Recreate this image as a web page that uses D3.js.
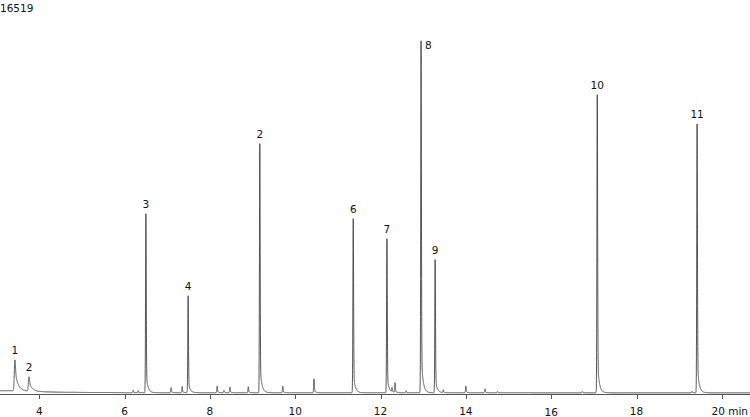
<!DOCTYPE html>
<html>
<head>
<meta charset="utf-8">
<script src="https://cdn.jsdelivr.net/npm/d3@7"></script>
<style>
  body { margin: 0; background: #fff; }
  svg text { font-family: "DejaVu Sans", Verdana, sans-serif; font-size: 10.5px; fill: #111; }
</style>
</head>
<body>
<div id="chart"></div>
<script>
// Chromatogram
const maxCount = 16519;

// labelled peaks: retention time (min), height (counts), label
const peakTimes = [3.43, 3.76, 6.50, 7.49, 9.17, 11.36, 12.15, 12.95, 13.28, 17.08, 19.42];
const peakHeights = [1400, 650, 8120, 4400, 11300, 7900, 6990, 15970, 6040, 13520, 12200];
const peakLabels = ["1", "2", "3", "4", "2", "6", "7", "8", "9", "10", "11"];

// small unlabelled peaks
const minorTimes = [6.20, 6.32, 7.09, 7.35, 8.17, 8.33, 8.47, 8.90, 9.71, 10.44, 12.27, 12.34, 12.60, 13.47, 14.00, 14.45, 14.74, 16.73, 19.30];
const minorHeights = [110, 90, 230, 280, 300, 100, 250, 270, 300, 630, 200, 450, 90, 130, 300, 180, 60, 60, 60];

// baseline drift
const baseTimes = [3.08, 3.40, 3.90, 4.50, 6.00, 20.66];
const baseValues = [150, 150, 110, 80, 60, 55];

const tickValues = [4, 6, 8, 10, 12, 14, 16, 18, 20];

const width = 750;
const height = 417;

const svg = d3.select("#chart")
    .append("svg")
    .attr("width", width)
    .attr("height", height);

const x = d3.scaleLinear()
    .domain([3.08, 20.66])
    .range([0, width]);

const y = d3.scaleLinear()
    .domain([0, maxCount])
    .range([394, 30]);

const baseline = d3.scaleLinear().domain(baseTimes).range(baseValues).clamp(true);

// peak shape: gaussian front with an exponential tail
function shape(t, rt, h, sigma, a, tau) {
    const dt = t - rt;
    const g = Math.exp(-dt * dt / (2 * sigma * sigma));
    if (dt < 0) return h * g;
    return h * ((1 - a) * g + a * Math.exp(-dt / tau));
}

const peaks = [];
peakTimes.forEach((rt, i) => {
    const early = rt < 4;
    peaks.push({
        rt: rt, h: peakHeights[i],
        sigma: early ? 0.014 : 0.008,
        a: early ? 0.65 : 0.12,
        tau: early ? 0.07 : 0.04
    });
});
minorTimes.forEach((rt, i) => {
    peaks.push({rt: rt, h: minorHeights[i], sigma: 0.008, a: 0.2, tau: 0.03});
});

function signal(t) {
    let s = baseline(t);
    peaks.forEach(p => {
        if (Math.abs(t - p.rt) < 1) s += shape(t, p.rt, p.h, p.sigma, p.a, p.tau);
    });
    return s;
}

const times = d3.range(3.08, 20.66, 0.001).concat(peakTimes, minorTimes).sort(d3.ascending);

const line = d3.line()
    .x(t => x(t))
    .y(t => y(signal(t)));

svg.append("path")
    .datum(times)
    .attr("fill", "none")
    .attr("stroke", "#444")
    .attr("stroke-width", 0.9)
    .attr("d", line);

// time axis
svg.append("line")
    .attr("x1", 0).attr("x2", width)
    .attr("y1", 394.5).attr("y2", 394.5)
    .attr("stroke", "#555");

tickValues.forEach(v => {
    svg.append("line")
        .attr("x1", Math.round(x(v)) + 0.5).attr("x2", Math.round(x(v)) + 0.5)
        .attr("y1", 394).attr("y2", 399)
        .attr("stroke", "#555");
    svg.append("text")
        .attr("x", x(v))
        .attr("y", v === 16 ? 416 : 415)
        .attr("text-anchor", v === 20 ? "end" : "middle")
        .attr("dx", 0)
        .text(v === 20 ? "20 min" : v);
});
// last label is pulled in from the right edge
svg.selectAll("text").filter(function() { return this.textContent === "20 min"; })
    .attr("x", width - 2);

// peak labels
peakTimes.forEach((rt, i) => {
    const px = x(rt);
    const py = y(peakHeights[i] + baseline(rt));
    const right = peakLabels[i] === "8";
    svg.append("text")
        .attr("x", right ? px + 4 : px)
        .attr("y", right ? py + 8 : py - 6)
        .attr("text-anchor", right ? "start" : "middle")
        .text(peakLabels[i]);
});

// full scale
svg.append("text")
    .attr("x", 0)
    .attr("y", 12)
    .text(maxCount);
</script>
</body>
</html>
